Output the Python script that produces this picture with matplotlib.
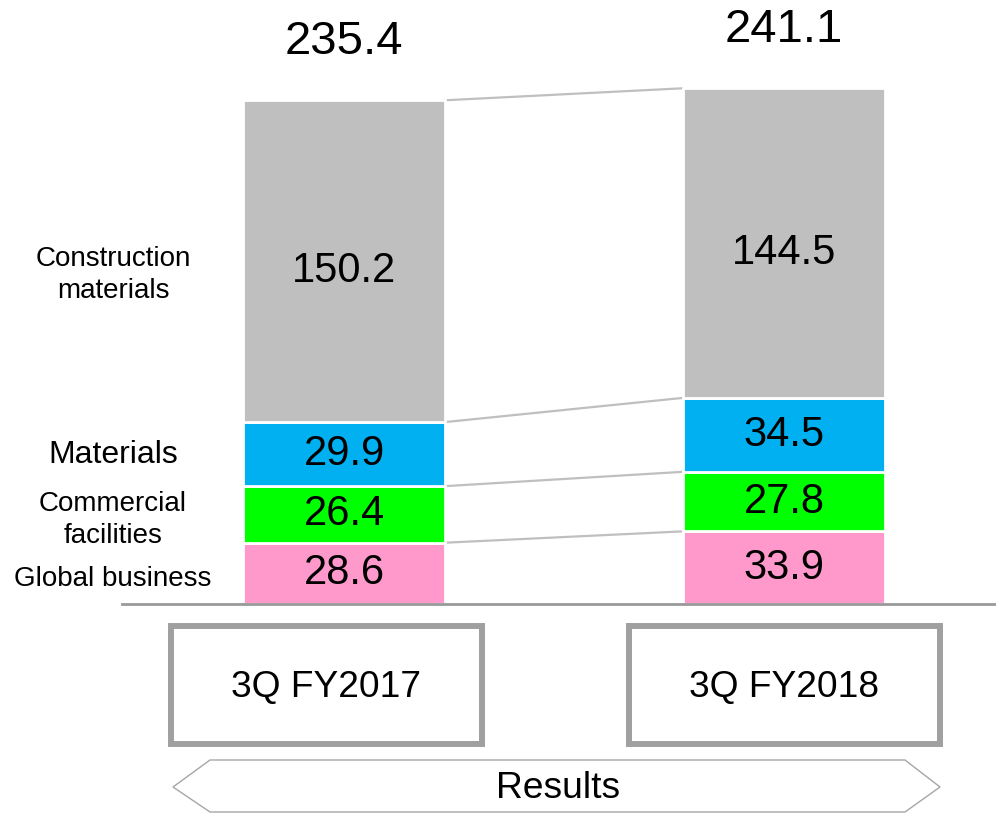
import numpy as np
import matplotlib
matplotlib.use("Agg")
import matplotlib.pyplot as plt
from matplotlib.patches import Rectangle, Polygon

plt.rcParams['font.family'] = ['Liberation Sans', 'DejaVu Sans']

# data (billion yen)
periods = ['3Q FY2017', '3Q FY2018']
segments = ['Global business', 'Commercial\nfacilities', 'Materials', 'Construction\nmaterials']
global_business = [28.6, 33.9]
commercial = [26.4, 27.8]
materials = [29.9, 34.5]
construction = [150.2, 144.5]
totals = [235.4, 241.1]
colors = ['#FF99CC', '#00FF00', '#00B0F0', '#BFBFBF']

series = [global_business, commercial, materials, construction]

fig = plt.figure(figsize=(9.96, 8.13), dpi=100)
ax = fig.add_axes([0, 1 - 604 / 813, 1, 604 / 813])
ax.set_xlim(-0.782, 1.482)
ax.set_ylim(0, 281.9)
ax.axis('off')

x = np.arange(len(periods))
width = 0.459
bottom = np.zeros(len(periods))
tops = []
for vals, col in zip(series, colors):
    vals = np.array(vals)
    ax.bar(x, vals, width, bottom=bottom, color=col, edgecolor='white', linewidth=2)
    for i, v in enumerate(vals):
        off = -4.5 if col == colors[-1] else 0
        ax.text(x[i], bottom[i] + v / 2 + off, f'{v:.1f}', ha='center', va='center', fontsize=30)
    bottom = bottom + vals
    tops.append(bottom.copy())

# connector lines between segment tops
for t in tops:
    ax.plot([x[0] + width / 2, x[1] - width / 2], [t[0], t[1]], color='#BFBFBF', lw=1.6, zorder=0)

# totals above bars
for i, t in enumerate(totals):
    ax.text(x[i], t + 27, f'{t:.1f}', ha='center', va='center', fontsize=34, clip_on=False)

# segment names on the left, next to the first bar (small nudges to match)
nudge = [-2.5, -2.5, -0.5, -6.5]
b = 0
for name, vals, dy in zip(segments, series, nudge):
    mid = b + vals[0] / 2 + dy
    fs = 23 if name == 'Materials' else 20
    ax.text(-0.525, mid, name, ha='center', va='center', fontsize=fs, linespacing=1.3)
    b += vals[0]

# baseline
ax.plot([-0.505, 1.482], [0, 0], color='#999999', lw=2, clip_on=False)

# lower part: period boxes and results arrow (pixel coords)
ov = fig.add_axes([0, 0, 1, 1], zorder=-1)
ov.set_xlim(0, 996)
ov.set_ylim(813, 0)
ov.axis('off')

box_x = [168, 626]
for bx, p in zip(box_x, periods):
    ov.add_patch(Rectangle((bx + 3, 626), 311, 118, fill=False, edgecolor='#A0A0A0', lw=4.3))
    ov.text(bx + 158, 687, p, ha='center', va='center', fontsize=26.7)

arrow = Polygon([[173, 787], [210, 760], [905, 760], [940, 787], [905, 812], [210, 812]],
                closed=True, facecolor='white', edgecolor='#A6A6A6', lw=1)
ov.add_patch(arrow)
ov.text(558, 788, 'Results', ha='center', va='center', fontsize=26.8)

fig.savefig('out.png', dpi=100)
